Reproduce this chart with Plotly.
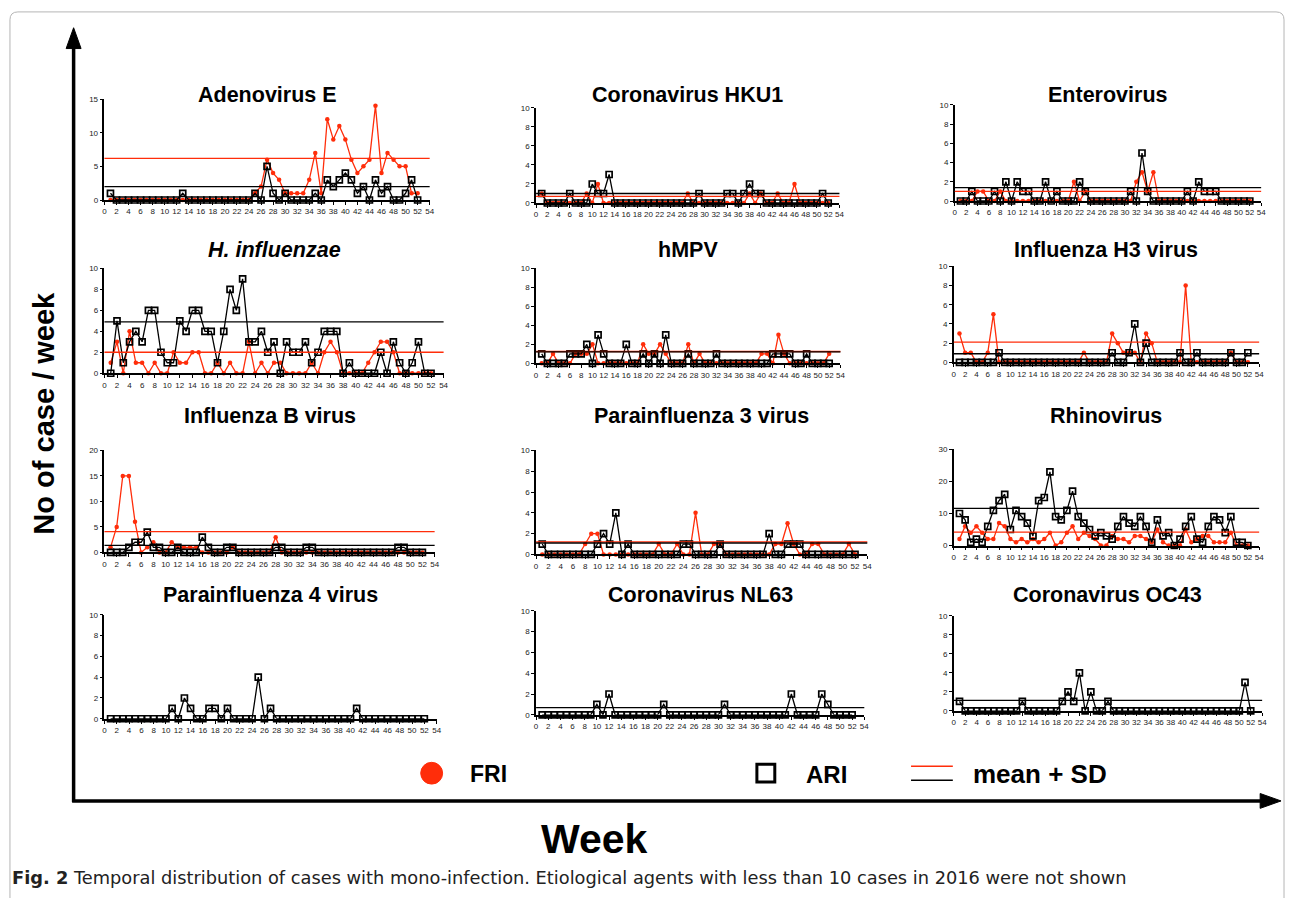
import plotly.graph_objects as go

W, H = 1292, 898
weeks = list(range(1, 53))

# ---------------- data ----------------
adeno_fri = [0,0,0,0,0,0,0,0,0,0,0,0,0,0,0,0,0,0,0,0,0,0,0,0,1,2,6,4,3,1,1,1,1,3,7,1,12,9,11,9,6,4,5,6,14,4,7,6,5,5,1,1]
adeno_ari = [1,0,0,0,0,0,0,0,0,0,0,0,1,0,0,0,0,0,0,0,0,0,0,0,1,0,5,1,0,1,0,0,0,0,1,0,3,2,3,4,3,1,2,0,3,1,2,0,0,1,3,0]

hku1_fri = [1,0,0,0,0,0,0,0,1,0,2,0,0,0,0,0,0,0,0,0,0,0,0,0,0,0,1,0,0,0,0,0,0,0,0,0,0,1,0,1,0,0,1,0,0,2,0,0,0,0,0,0]
hku1_ari = [1,0,0,0,0,1,0,0,0,2,1,1,3,0,0,0,0,0,0,0,0,0,0,0,0,0,0,0,1,0,0,0,0,1,1,0,1,2,1,1,0,0,0,0,0,0,0,0,0,0,1,0]

entero_fri = [0,0,0,1,1,0,0,1,0,0,0,0,0,0,0,0,0,0,0,0,2,0,1,0,0,0,0,0,0,0,0,2,3,1,3,0,0,0,0,0,0,0,0,0,0,0,0,0,0,0,0,0]
entero_ari = [0,0,1,0,0,0,1,0,2,0,2,1,1,0,0,2,0,1,0,0,0,2,1,0,0,0,0,0,0,0,1,0,5,1,0,0,0,0,0,0,1,0,2,1,1,1,0,0,0,0,0,0]

hinf_fri = [1,3,0,4,1,1,0,1,0,0,2,1,1,2,2,0,0,1,0,1,0,0,3,0,1,0,1,1,0,0,0,0,1,0,2,3,2,0,0,0,0,1,2,3,3,2,0,0,0,0,0,0]
hinf_ari = [0,5,1,3,4,3,6,6,2,1,1,5,4,6,6,4,4,1,4,8,6,9,3,3,4,2,3,0,3,2,2,3,1,2,4,4,4,0,1,0,0,0,0,2,0,3,1,0,1,3,0,0]

hmpv_fri = [0,0,1,0,0,0,1,1,1,2,0,0,0,0,0,0,0,0,2,1,1,2,1,0,0,0,2,0,1,0,0,0,0,0,0,0,0,0,0,1,1,0,3,1,0,0,0,0,0,0,0,1]
hmpv_ari = [1,0,0,0,0,1,1,1,2,0,3,1,0,0,0,2,0,0,1,0,1,0,3,0,0,0,1,0,0,0,0,1,0,0,0,0,0,0,0,0,0,1,1,1,1,0,0,1,0,0,0,0]

h3_fri = [3,1,1,0,0,1,5,0,0,0,0,0,0,0,0,0,0,0,0,0,0,0,1,0,0,0,0,3,2,1,1,1,0,3,2,0,0,0,0,0,8,0,0,0,0,0,0,0,1,0,0,0]
h3_ari = [0,0,0,0,0,0,0,1,0,0,0,0,0,0,0,0,0,0,0,0,0,0,0,0,0,0,0,1,0,0,1,4,0,2,0,0,0,0,0,1,0,0,1,0,0,0,0,0,1,0,0,1]

flub_fri = [1,5,15,15,6,0,1,2,0,0,2,1,1,1,1,0,0,0,0,0,1,0,0,0,0,0,0,3,0,0,0,0,0,0,0,0,0,0,0,0,0,0,0,0,0,0,0,0,0,0,0,0]
flub_ari = [0,0,0,1,2,2,4,1,1,0,0,1,0,0,0,3,1,0,0,1,1,0,0,0,0,0,0,1,1,0,0,0,1,1,0,0,0,0,0,0,0,0,0,0,0,0,0,1,1,0,0,0]

pif3_fri = [0,0,0,0,0,0,0,1,2,2,0,0,0,0,0,0,0,0,0,1,0,0,1,0,0,4,0,0,1,1,0,0,0,0,0,0,0,0,1,1,3,1,0,0,1,1,0,0,0,0,1,0]
pif3_ari = [1,0,0,0,0,0,0,0,0,1,2,1,4,0,1,0,0,0,0,0,0,0,0,1,1,0,0,0,0,1,0,0,0,0,0,0,0,2,0,0,1,1,1,0,0,0,0,0,0,0,0,0]

rhino_fri = [2,6,4,6,4,2,2,7,6,2,1,2,1,2,1,2,4,0,1,4,6,2,4,3,2,0,0,3,2,2,1,3,3,2,1,5,1,0,0,0,5,1,2,3,3,1,1,1,4,0,0,0]
rhino_ari = [10,8,1,2,1,6,11,14,16,5,11,9,7,3,14,15,23,9,8,11,17,9,7,5,3,4,3,2,6,9,7,6,9,6,1,8,3,4,0,2,6,9,2,1,6,9,8,4,9,1,1,0]

pif4_ari = [0,0,0,0,0,0,0,0,0,0,1,0,2,1,0,0,1,1,0,1,0,0,0,0,4,0,1,0,0,0,0,0,0,0,0,0,0,0,0,0,1,0,0,0,0,0,0,0,0,0,0,0]
nl63_ari = [0,0,0,0,0,0,0,0,0,1,0,2,0,0,0,0,0,0,0,0,1,0,0,0,0,0,0,0,0,0,1,0,0,0,0,0,0,0,0,0,0,2,0,0,0,0,2,1,0,0,0,0]
oc43_ari = [1,0,0,0,0,0,0,0,0,0,0,1,0,0,0,0,0,0,1,2,1,4,0,2,0,0,1,0,0,0,0,0,0,0,0,0,0,0,0,0,0,0,0,0,0,0,0,0,0,0,3,0]

titles = ["Adenovirus E", "Coronavirus HKU1", "Enterovirus",
          "<i>H. influenzae</i>", "hMPV", "Influenza H3 virus",
          "Influenza B virus", "Parainfluenza 3 virus", "Rhinovirus",
          "Parainfluenza 4 virus", "Coronavirus NL63", "Coronavirus OC43"]
fri_series = [adeno_fri, hku1_fri, entero_fri, hinf_fri, hmpv_fri, h3_fri,
              flub_fri, pif3_fri, rhino_fri, None, None, None]
ari_series = [adeno_ari, hku1_ari, entero_ari, hinf_ari, hmpv_ari, h3_ari,
              flub_ari, pif3_ari, rhino_ari, pif4_ari, nl63_ari, oc43_ari]
fri_cut = [6.2, 0.7, 1.0, 2.0, 1.25, 2.1, 4.1, 1.2, 4.2, None, None, None]
ari_cut = [2.0, 1.0, 1.4, 4.9, 1.2, 0.9, 1.4, 1.1, 11.6, None, 0.7, 1.1]
y_max = [15, 10, 10, 10, 10, 10, 20, 10, 30, 10, 10, 10]
y_step = [5, 2, 2, 2, 2, 2, 5, 2, 10, 2, 2, 2]
x_ticks = list(range(0, 55, 2))

# ---------------- layout geometry (pixels) ----------------
# left(x=0), right(x=54), bottom(y=0), top(y=max)
boxes = [(103, 430, 198, 96), (537, 842, 201, 105), (958, 1266, 199, 102),
         (103, 444, 373, 267), (537, 843, 363, 267), (957, 1264, 362, 265),
         (103, 435, 554, 451), (537, 870, 556, 451), (957, 1264, 547, 450),
         (103, 437, 722, 617), (537, 867, 718, 613), (957, 1267, 714, 618)]
title_y = [92, 92, 92, 248, 248, 248, 416, 416, 416, 597, 597, 597]

RED = "#ff2d0a"
FONT = "Liberation Sans"

def px(x):
    return x / W

def py(y):
    return 1 - y / H

fig = go.Figure()
shapes = []
annotations = []
layout_axes = {}

for i in range(12):
    n = i + 1
    xa = "x" if n == 1 else f"x{n}"
    ya = "y" if n == 1 else f"y{n}"
    L, R, B, T = boxes[i]
    layout_axes["xaxis" if n == 1 else f"xaxis{n}"] = dict(
        domain=[px(L), px(R)], anchor=ya, range=[0, 54], tickvals=x_ticks,
        tickangle=0, showline=True, linecolor="black", linewidth=1.5, ticks="outside",
        ticklen=3, tickwidth=1, tickcolor="black", showgrid=False, zeroline=False,
        tickfont=dict(size=8, color="#222", family=FONT))
    layout_axes["yaxis" if n == 1 else f"yaxis{n}"] = dict(
        domain=[py(B), py(T)], anchor=xa, range=[0, y_max[i]],
        tickvals=list(range(0, y_max[i] + 1, y_step[i])),
        showline=True, linecolor="black", linewidth=1.5, ticks="outside",
        ticklen=3, tickwidth=1, tickcolor="black", showgrid=False, zeroline=False,
        tickfont=dict(size=8, color="#222", family=FONT))

    if fri_cut[i] is not None:
        shapes.append(dict(type="line", xref=f"{xa} domain", yref=ya, x0=0, x1=1,
                           y0=fri_cut[i], y1=fri_cut[i], line=dict(color=RED, width=1.3)))
    if ari_cut[i] is not None:
        shapes.append(dict(type="line", xref=f"{xa} domain", yref=ya, x0=0, x1=1,
                           y0=ari_cut[i], y1=ari_cut[i], line=dict(color="black", width=1.3)))

    if fri_series[i] is not None:
        fig.add_trace(go.Scatter(x=weeks, y=fri_series[i], xaxis=xa, yaxis=ya,
                                 mode="lines+markers", cliponaxis=False, showlegend=False,
                                 line=dict(color=RED, width=1.3),
                                 marker=dict(color=RED, size=4.5, symbol="circle")))
    fig.add_trace(go.Scatter(x=weeks, y=ari_series[i], xaxis=xa, yaxis=ya,
                             mode="lines+markers", cliponaxis=False, showlegend=False,
                             line=dict(color="black", width=1.3),
                             marker=dict(color="black", size=6, symbol="square-open",
                                         line=dict(width=1.7, color="black"))))

    annotations.append(dict(xref="paper", yref="paper", x=px((L + R) / 2), y=py(title_y[i]),
                            text=f"<b>{titles[i]}</b>", showarrow=False,
                            font=dict(size=21.5, color="black", family=FONT),
                            xanchor="center", yanchor="middle"))

# ---------------- big axes arrows ----------------
shapes.append(dict(type="line", xref="paper", yref="paper", x0=px(72), x1=px(72),
                   y0=py(806), y1=py(40), line=dict(color="black", width=3.5)))
shapes.append(dict(type="path", xref="paper", yref="paper",
                   path=f"M {px(72)} {py(24)} L {px(64.5)} {py(45)} L {px(79.5)} {py(45)} Z",
                   fillcolor="black", line=dict(color="black", width=1)))
shapes.append(dict(type="line", xref="paper", yref="paper", x0=px(70.5), x1=px(1268),
                   y0=py(805), y1=py(805), line=dict(color="black", width=3.5)))
shapes.append(dict(type="path", xref="paper", yref="paper",
                   path=f"M {px(1286)} {py(805)} L {px(1265)} {py(797.5)} L {px(1265)} {py(812.5)} Z",
                   fillcolor="black", line=dict(color="black", width=1)))

# border frame (rounded)
r = 8
x0b, x1b, y0b, y1b = 8, 1289, 8, 920
shapes.append(dict(type="path", xref="paper", yref="paper",
                   path=(f"M {px(x0b)} {py(y1b)} L {px(x0b)} {py(y0b + r)} "
                         f"Q {px(x0b)} {py(y0b)} {px(x0b + r)} {py(y0b)} "
                         f"L {px(x1b - r)} {py(y0b)} Q {px(x1b)} {py(y0b)} {px(x1b)} {py(y0b + r)} "
                         f"L {px(x1b)} {py(y1b)}"),
                   line=dict(color="#b5b5b5", width=1)))

# ---------------- legend ----------------
shapes.append(dict(type="circle", xref="paper", yref="paper",
                   x0=px(421), x1=px(443), y0=py(788), y1=py(766),
                   fillcolor=RED, line=dict(color=RED, width=1)))
shapes.append(dict(type="rect", xref="paper", yref="paper",
                   x0=px(759), x1=px(777), y0=py(786), y1=py(768),
                   fillcolor="rgba(0,0,0,0)", line=dict(color="black", width=3)))
shapes.append(dict(type="line", xref="paper", yref="paper", x0=px(914), x1=px(956),
                   y0=py(770), y1=py(770), line=dict(color=RED, width=1.5)))
shapes.append(dict(type="line", xref="paper", yref="paper", x0=px(914), x1=px(956),
                   y0=py(784), y1=py(784), line=dict(color="black", width=1.5)))
for txt, xx, fs in [("FRI", 469, 23), ("ARI", 806, 24), ("mean + SD", 974, 26)]:
    annotations.append(dict(xref="paper", yref="paper", x=px(xx), y=py(778),
                            text=f"<b>{txt}</b>", showarrow=False, xanchor="left",
                            yanchor="middle", font=dict(size=fs, color="black", family=FONT)))

# axis labels
annotations.append(dict(xref="paper", yref="paper", x=px(42), y=py(413),
                        text="<b>No of case / week</b>", showarrow=False, textangle=-90,
                        xanchor="center", yanchor="middle",
                        font=dict(size=29, color="black", family=FONT)))
annotations.append(dict(xref="paper", yref="paper", x=px(596), y=py(843),
                        text="<b>Week</b>", showarrow=False, xanchor="center", yanchor="middle",
                        font=dict(size=41, color="black", family=FONT)))
# caption
annotations.append(dict(xref="paper", yref="paper", x=px(8), y=py(882),
                        text="<b>Fig. 2</b> Temporal distribution of cases with mono-infection. "
                             "Etiological agents with less than 10 cases in 2016 were not shown",
                        showarrow=False, xanchor="left", yanchor="middle",
                        font=dict(size=17.8, color="#222", family="DejaVu Sans")))

fig.update_layout(width=W, height=H, margin=dict(l=0, r=0, t=0, b=0),
                  paper_bgcolor="white", plot_bgcolor="white",
                  shapes=shapes, annotations=annotations, showlegend=False,
                  **layout_axes)

fig.write_html("out.html", config={"displayModeBar": False},
               post_script="document.body.style.margin='0px';document.body.style.overflow='hidden';")
